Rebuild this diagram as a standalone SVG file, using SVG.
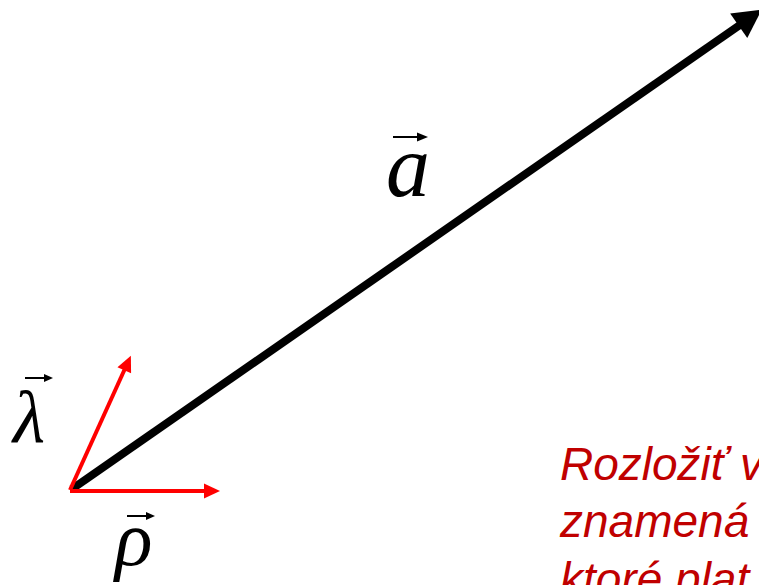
<svg xmlns="http://www.w3.org/2000/svg" width="759" height="585" viewBox="0 0 759 585">
<style>
.sym{font-family:"Liberation Serif","Times New Roman",serif;font-style:italic;fill:#000}
.note{font-family:"Liberation Sans",Arial,sans-serif;font-style:italic;font-size:46px;fill:#C00000}
.red{stroke:#FF0000;stroke-width:4;fill:none}
.blk{stroke:#000;stroke-width:8;fill:none}
.ov{stroke:#000;stroke-width:2;fill:none}
</style>
<defs>
<marker id="hr" markerUnits="userSpaceOnUse" markerWidth="16" markerHeight="15" refX="3" refY="7.5" orient="auto" overflow="visible">
<path d="M0,0 L16,7.5 L0,15 z" fill="#FF0000"/>
</marker>
<marker id="hb" markerUnits="userSpaceOnUse" markerWidth="28" markerHeight="30" refX="4" refY="15" orient="auto" overflow="visible">
<path d="M0,0 L28,15 L0,30 z" fill="#000"/>
</marker>
</defs>
<g id="connectors">
<line id="vec-a" class="blk" x1="72" y1="489" x2="742" y2="23.5" marker-end="url(#hb)"/>
<line id="vec-lambda" class="red" x1="70" y1="490" x2="125.5" y2="367.5" marker-end="url(#hr)"/>
<line id="vec-rho" class="red" x1="70" y1="491" x2="207" y2="491" marker-end="url(#hr)"/>
</g>
<g id="label-a">
<text class="sym" x="386" y="196" font-size="88">a</text>
<line class="ov" x1="393" y1="137" x2="419" y2="137"/>
<path d="M417,132.5 L428,137 L417,141.5 z" fill="#000"/>
</g>
<g id="label-lambda">
<text class="sym" x="13" y="442" font-size="74">λ</text>
<line class="ov" x1="25" y1="378" x2="45" y2="378"/>
<path d="M44,374 L53,378 L44,382 z" fill="#000"/>
</g>
<g id="label-rho">
<text class="sym" x="115" y="565" font-size="78">ρ</text>
<line class="ov" x1="127" y1="516" x2="147" y2="516"/>
<path d="M146,512 L155,516 L146,520 z" fill="#000"/>
</g>
<g id="note">
<text class="note" x="560" y="480">Rozložiť v</text>
<text class="note" x="560" y="537">znamená</text>
<text class="note" x="560" y="595">ktoré plat</text>
</g>
</svg>
